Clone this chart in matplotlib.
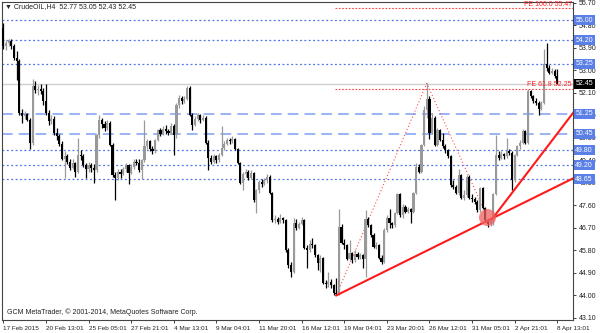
import matplotlib
matplotlib.use('Agg')
import matplotlib.pyplot as plt
import matplotlib.transforms as mtransforms

plt.rcParams['font.family'] = ['Liberation Sans', 'DejaVu Sans']

# H4 candles, CrudeOIL 17 Feb - 8 Apr 2015
opens = [
    54.70, 53.95, 54.10, 54.15, 53.95, 53.50, 53.35, 51.30, 51.15, 51.25,
    51.00, 50.10, 52.35, 52.20, 52.25, 52.15, 51.75, 51.30, 50.95, 51.05,
    50.50, 50.35, 50.05, 49.45, 49.55, 49.35, 49.10, 49.30, 48.95, 49.60,
    49.55, 49.20, 49.05, 49.20, 49.10, 49.00, 50.40, 51.00, 50.85, 50.70,
    50.90, 50.00, 48.80, 48.70, 48.95, 48.85, 49.05, 49.20, 48.90, 49.15,
    49.35, 49.30, 49.00, 49.40, 49.95, 50.15, 49.85, 49.75, 50.20, 50.60,
    50.45, 50.65, 50.55, 50.50, 50.75, 50.40, 51.60, 51.90, 51.75, 51.85,
    52.30, 51.20, 50.80, 51.05, 51.20, 51.00, 51.10, 50.10, 49.50, 49.35,
    49.55, 49.40, 49.60, 49.90, 50.05, 50.20, 50.15, 50.25, 49.85, 49.30,
    48.50, 48.85, 48.95, 48.70, 48.90, 47.80, 48.20, 48.55, 48.45, 48.60,
    48.75, 48.10, 47.00, 47.05, 46.95, 47.10, 47.00, 45.80, 45.20, 44.95,
    46.90, 46.70, 46.85, 47.00, 45.90, 45.80, 46.05, 46.00, 45.60, 45.30,
    45.50, 44.50, 44.45, 44.55, 44.40, 44.10, 44.05, 46.75, 46.10, 46.00,
    45.45, 45.70, 45.40, 45.65, 45.55, 45.60, 45.45, 47.05, 46.80, 46.40,
    45.95, 46.00, 45.50, 45.35, 46.60, 47.10, 46.90, 46.80, 47.30, 48.05,
    47.20, 47.55, 47.35, 47.45, 47.35, 48.10, 49.15, 48.95, 50.00, 51.40,
    51.85, 50.50, 51.10, 50.00, 50.60, 50.20, 49.95, 49.80, 49.55, 48.40,
    48.35, 48.10, 48.80, 47.90, 48.00, 48.75, 47.90, 47.85, 47.75, 47.40,
    48.30, 47.50, 47.00, 46.85, 47.00, 48.05, 49.60, 49.50, 49.65, 49.55,
    49.75, 49.70, 48.60, 49.60, 49.95, 50.10, 50.55, 50.10, 52.15, 51.95,
    51.75, 51.70, 51.45, 51.70, 53.25, 53.10, 52.90, 52.95, 52.77,
]
highs = [
    54.87, 54.20, 54.25, 54.25, 54.05, 53.75, 53.45, 51.45, 51.35, 51.30,
    51.10, 52.65, 52.55, 52.40, 52.45, 52.30, 52.45, 51.40, 51.20, 51.15,
    50.70, 50.45, 50.15, 49.75, 49.65, 49.45, 49.45, 49.35, 50.30, 49.80,
    49.65, 49.30, 49.35, 49.30, 49.25, 50.45, 51.20, 51.10, 50.95, 51.00,
    50.95, 50.10, 48.95, 49.05, 49.05, 49.15, 49.30, 49.25, 49.25, 49.45,
    49.45, 49.45, 49.45, 51.00, 50.25, 50.20, 49.95, 50.25, 50.65, 50.70,
    50.75, 50.80, 50.65, 50.90, 50.85, 51.70, 52.00, 51.95, 51.95, 52.35,
    52.35, 51.30, 51.15, 51.30, 51.25, 51.20, 51.15, 50.20, 49.60, 49.65,
    49.60, 49.70, 50.75, 50.15, 50.30, 50.30, 50.35, 50.30, 49.90, 49.35,
    48.95, 49.05, 49.00, 49.00, 48.95, 48.25, 48.60, 48.65, 48.70, 48.85,
    48.80, 48.15, 47.20, 47.15, 47.25, 47.15, 47.05, 45.90, 45.35, 47.10,
    47.05, 46.95, 47.15, 47.05, 46.00, 46.20, 46.30, 46.05, 45.65, 45.60,
    45.55, 44.60, 44.95, 44.65, 44.45, 44.70, 47.45, 46.85, 46.25, 46.05,
    46.20, 45.75, 45.80, 45.75, 45.70, 45.65, 47.40, 47.15, 46.85, 46.50,
    46.15, 46.05, 45.60, 46.70, 47.20, 47.45, 46.95, 47.35, 48.10, 48.10,
    47.65, 47.60, 47.55, 47.50, 48.15, 49.30, 49.25, 50.05, 51.55, 52.47,
    51.95, 51.30, 51.15, 50.70, 50.65, 50.50, 50.05, 49.85, 49.60, 48.60,
    48.40, 49.05, 48.85, 48.20, 48.80, 48.80, 48.05, 47.95, 47.80, 48.35,
    48.35, 47.55, 47.05, 47.10, 48.10, 50.40, 49.75, 49.75, 49.70, 50.30,
    49.85, 49.75, 49.65, 50.00, 50.20, 50.65, 50.60, 52.25, 52.20, 52.00,
    51.90, 51.75, 51.75, 53.85, 54.10, 53.20, 53.10, 53.05, 53.05,
]
lows = [
    53.85, 53.80, 53.95, 53.85, 53.40, 52.60, 51.20, 50.90, 51.05, 50.95,
    49.85, 50.00, 52.10, 52.00, 52.05, 51.60, 51.20, 50.80, 50.85, 50.40,
    50.20, 49.95, 49.40, 48.70, 49.25, 49.00, 49.05, 48.75, 48.90, 49.40,
    49.15, 48.70, 48.95, 48.95, 48.50, 48.95, 50.30, 50.70, 50.55, 50.60,
    49.95, 48.75, 47.80, 48.60, 48.70, 48.80, 48.95, 48.45, 48.85, 49.05,
    49.20, 48.95, 48.65, 49.35, 49.85, 49.75, 49.65, 49.70, 50.15, 50.35,
    50.40, 50.45, 50.40, 50.45, 49.60, 50.30, 51.50, 51.65, 51.70, 51.80,
    51.15, 50.60, 50.75, 50.95, 50.90, 50.95, 50.05, 49.00, 49.25, 49.30,
    49.30, 49.35, 49.55, 49.80, 50.00, 50.05, 50.10, 49.80, 49.25, 48.45,
    48.20, 48.75, 48.60, 48.65, 47.75, 47.30, 48.10, 48.35, 48.40, 48.50,
    48.05, 46.95, 46.90, 46.85, 46.90, 46.90, 45.75, 45.10, 44.75, 44.90,
    46.60, 46.65, 46.80, 45.85, 45.10, 45.75, 45.90, 45.55, 45.00, 44.95,
    44.45, 44.30, 44.35, 44.30, 44.02, 44.00, 44.02, 46.05, 45.85, 45.40,
    45.40, 45.30, 45.35, 45.45, 45.45, 45.10, 44.75, 46.75, 46.35, 45.90,
    45.85, 45.45, 45.25, 45.30, 46.55, 46.70, 46.70, 46.75, 47.25, 47.15,
    47.10, 47.30, 47.30, 46.90, 47.30, 48.05, 48.90, 48.90, 49.95, 51.10,
    50.25, 50.45, 49.95, 49.95, 50.15, 49.90, 49.70, 49.50, 48.35, 48.25,
    48.05, 48.00, 47.85, 47.80, 47.95, 47.85, 47.75, 47.65, 47.35, 47.35,
    47.45, 46.95, 46.75, 46.78, 46.80, 48.00, 49.40, 49.45, 49.45, 49.50,
    49.60, 48.20, 48.55, 49.55, 49.85, 50.05, 50.05, 50.05, 51.90, 51.70,
    51.60, 51.20, 51.40, 51.65, 52.95, 52.85, 52.85, 52.70, 52.43,
]
closes = [
    53.95, 54.10, 54.15, 53.95, 53.50, 53.35, 51.30, 51.15, 51.25, 51.00,
    50.10, 52.35, 52.20, 52.25, 52.15, 51.75, 51.30, 50.95, 51.05, 50.50,
    50.35, 50.05, 49.45, 49.55, 49.35, 49.10, 49.30, 48.95, 49.60, 49.55,
    49.20, 49.05, 49.20, 49.10, 49.00, 50.40, 51.00, 50.85, 50.70, 50.90,
    50.00, 48.80, 48.70, 48.95, 48.85, 49.05, 49.20, 48.90, 49.15, 49.35,
    49.30, 49.00, 49.40, 49.95, 50.15, 49.85, 49.75, 50.20, 50.60, 50.45,
    50.65, 50.55, 50.50, 50.75, 50.40, 51.60, 51.90, 51.75, 51.85, 52.30,
    51.20, 50.80, 51.05, 51.20, 51.00, 51.10, 50.10, 49.50, 49.35, 49.55,
    49.40, 49.60, 49.90, 50.05, 50.20, 50.15, 50.25, 49.85, 49.30, 48.50,
    48.85, 48.95, 48.70, 48.90, 47.80, 48.20, 48.55, 48.45, 48.60, 48.75,
    48.10, 47.00, 47.05, 46.95, 47.10, 47.00, 45.80, 45.20, 44.95, 46.90,
    46.70, 46.85, 47.00, 45.90, 45.80, 46.05, 46.00, 45.60, 45.30, 45.50,
    44.50, 44.45, 44.55, 44.40, 44.10, 44.05, 46.75, 46.10, 46.00, 45.45,
    45.70, 45.40, 45.65, 45.55, 45.60, 45.45, 47.05, 46.80, 46.40, 45.95,
    46.00, 45.50, 45.35, 46.60, 47.10, 46.90, 46.80, 47.30, 48.05, 47.20,
    47.55, 47.35, 47.45, 47.35, 48.10, 49.15, 48.95, 50.00, 51.40, 51.85,
    50.50, 51.10, 50.00, 50.60, 50.20, 49.95, 49.80, 49.55, 48.40, 48.35,
    48.10, 48.80, 47.90, 48.00, 48.75, 47.90, 47.85, 47.75, 47.40, 48.30,
    47.50, 47.00, 46.85, 47.00, 48.05, 49.60, 49.50, 49.65, 49.55, 49.75,
    49.70, 48.60, 49.60, 49.95, 50.10, 50.55, 50.10, 52.15, 51.95, 51.75,
    51.70, 51.45, 51.70, 53.25, 53.10, 52.90, 52.95, 52.77, 52.45,
]

# axis labels
date_labels = ['17 Feb 2015', '20 Feb 13:01', '25 Feb 05:01', '27 Feb 21:01',
               '4 Mar 13:01', '9 Mar 04:01', '11 Mar 20:01', '16 Mar 12:01',
               '19 Mar 04:01', '23 Mar 20:01', '26 Mar 12:01', '31 Mar 05:01',
               '2 Apr 21:01', '8 Apr 13:01']
date_bars = [0, 16, 32, 48, 64, 80, 96, 112, 128, 144, 160, 176, 192, 208]
price_ticks = [55.70, 54.80, 53.90, 53.00, 52.10, 51.20, 50.30, 49.40,
               48.50, 47.60, 46.70, 45.80, 44.90, 44.00, 43.10]

# drawn objects
dotted_levels = [55.00, 54.20, 53.25, 49.80, 49.20, 48.65]
dashed_levels = [51.25, 50.45]
bid = 52.45
fe_levels = [55.47, 52.25]
fe_names = ['FE 100.0 55.47', 'FE 61.8 52.25']
fe_pts_x = [125, 159, 181]
fe_pts_y = [44.00, 52.47, 47.30]
trend1_x = [125, 214]
trend1_y = [44.00, 48.68]
trend2_x = [183.5, 214]
trend2_y = [47.05, 51.30]
mark_x = 181.6
mark_y = 47.13

fig = plt.figure(figsize=(6, 3.33), dpi=100)
ax = fig.add_axes([2/600, 13/333, 571/600, 318/333])

# candles
n = len(closes)
idx = list(range(n))
cols = ['#999999' if c >= o else 'black' for o, c in zip(opens, closes)]
bottoms = [min(o, c) for o, c in zip(opens, closes)]
heights = [max(abs(c - o), 0.03) for o, c in zip(opens, closes)]
ax.vlines(idx, lows, highs, colors=cols, lw=0.9, zorder=3)
ax.bar(idx, heights, bottom=bottoms, width=0.8, color=cols, lw=0, zorder=3)

# levels
for v in dotted_levels:
    ax.axhline(v, color='#4f74e8', ls=(0, (1.5, 2)), lw=0.9, zorder=1)
for v in dashed_levels:
    ax.axhline(v, color='#7d9ff2', ls=(0, (7, 4)), lw=1.1, zorder=1)
ax.axhline(bid, color='#cfcfcf', lw=1, zorder=1)

# fibonacci expansion
for v, name in zip(fe_levels, fe_names):
    ax.hlines(v, 124.5, 214, color='#ff4040', ls=(0, (1.5, 1.5)), lw=0.8, zorder=2)
    ax.text(213.4, v + 0.03, name, ha='right', va='bottom', color='#ff2020',
            fontsize=5, zorder=4)
ax.plot(fe_pts_x, fe_pts_y, color='#ff5050', ls=(0, (1, 2)), lw=0.8, zorder=2)

# trendlines
ax.plot(trend1_x, trend1_y, color='#ff1a1a', lw=1.5, zorder=4)
ax.plot(trend2_x, trend2_y, color='#ff1a1a', lw=1.5, zorder=4)
ax.scatter([mark_x], [mark_y], s=150, color='#f06060', alpha=0.75, lw=0, zorder=5)

ax.set_xlim(-0.5, 213.9)
ax.set_ylim(43.02, 55.72)

ax.yaxis.tick_right()
ax.set_yticks(price_ticks)
ax.set_yticklabels([f'{t:.2f}' for t in price_ticks])
ax.set_xticks(date_bars)
ax.set_xticklabels(date_labels, ha='left')
ax.tick_params(axis='both', labelsize=5, length=2.5, width=0.6, pad=1.5,
               colors='#222222')
ax.tick_params(axis='x', labelsize=4.6)
for s in ax.spines.values():
    s.set_linewidth(0.8)
    s.set_color('#444444')

# boxed price labels on the right scale (they cover the plain ticks, as in MT4)
trans = mtransforms.blended_transform_factory(ax.transAxes, ax.transData)
for v in dotted_levels + dashed_levels:
    ax.text(1.004, v, f'{v:.2f}', transform=trans, ha='left', va='center',
            fontsize=5, color='white', zorder=6, clip_on=False,
            bbox=dict(boxstyle='square,pad=0.25', fc='#5a7fe6', ec='none'))
ax.text(1.004, bid, f'{bid:.2f}', transform=trans, ha='left', va='center',
        fontsize=5, color='white', zorder=6, clip_on=False,
        bbox=dict(boxstyle='square,pad=0.25', fc='black', ec='none'))

fig.text(5/600, 1 - 7/333, '▼ CrudeOIL,H4  52.77 53.05 52.43 52.45',
         fontsize=5, va='center', color='#222222')
fig.text(7/600, 1 - 312/333,
         'GCM MetaTrader, © 2001-2014, MetaQuotes Software Corp.',
         fontsize=5, va='center', color='#222222')

fig.savefig('out.png', dpi=100, facecolor='white')
